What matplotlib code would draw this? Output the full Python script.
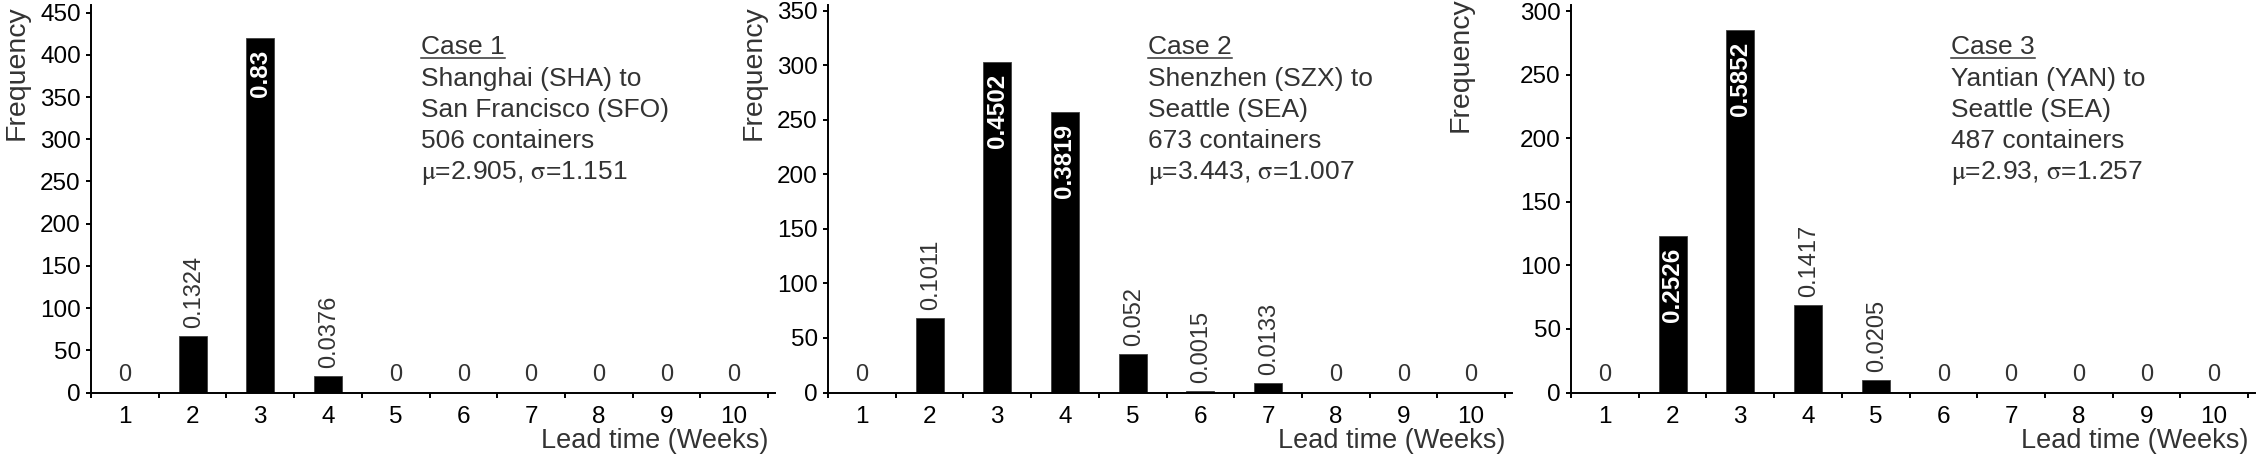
import matplotlib
matplotlib.use("Agg")
import matplotlib.pyplot as plt
from matplotlib.lines import Line2D

plt.rcParams['font.family'] = ['Liberation Sans', 'DejaVu Sans']
plt.rcParams['mathtext.fontset'] = 'stix'

# data
weeks = [1, 2, 3, 4, 5, 6, 7, 8, 9, 10]

counts_case1 = [0, 67, 420, 19, 0, 0, 0, 0, 0, 0]
labels_case1 = ["0", "0.1324", "0.83", "0.0376", "0", "0", "0", "0", "0", "0"]

counts_case2 = [0, 68, 303, 257, 35, 1, 9, 0, 0, 0]
labels_case2 = ["0", "0.1011", "0.4502", "0.3819", "0.052", "0.0015", "0.0133", "0", "0", "0"]

counts_case3 = [0, 123, 285, 69, 10, 0, 0, 0, 0, 0]
labels_case3 = ["0", "0.2526", "0.5852", "0.1417", "0.0205", "0", "0", "0", "0", "0"]

case_titles = ["Case 1", "Case 2", "Case 3"]
case_lines = [
    ["Shanghai (SHA) to", "San Francisco (SFO)", "506 containers",
     r"$\mathrm{\mu}$=2.905, $\mathrm{\sigma}$=1.151"],
    ["Shenzhen (SZX) to", "Seattle (SEA)", "673 containers",
     r"$\mathrm{\mu}$=3.443, $\mathrm{\sigma}$=1.007"],
    ["Yantian (YAN) to", "Seattle (SEA)", "487 containers",
     r"$\mathrm{\mu}$=2.93, $\mathrm{\sigma}$=1.257"],
]
y_tick_max = [450, 350, 300]

all_counts = [counts_case1, counts_case2, counts_case3]
all_labels = [labels_case1, labels_case2, labels_case3]

# layout in pixels
W, H = 2256, 463
def fx(px):
    return px / W
def fy(py):
    return 1 - py / H

axes_left = [91, 828, 1571]
axes_w = 684
axes_bottom = 392.5
axes_h = 387.5
ylim_top = [459, 355.5, 305]
text_left = [421, 1148, 1951]
ylabel_pos = [(-0.090, 1.0), (-0.090, 1.0), (-0.143, 1.02)]
gray = '#333333'

fig = plt.figure(figsize=(W / 100, H / 100), dpi=100)

title_texts = []
for i in range(3):
    ax = fig.add_axes([fx(axes_left[i]), fy(axes_bottom), axes_w / W, axes_h / H])
    counts = all_counts[i]
    labels = all_labels[i]
    ax.bar(weeks, counts, width=0.415, color='black', edgecolor='#404040', linewidth=0.6)

    ax.set_xlim(0.5, 0.5 + axes_w / 67.7)
    ax.set_ylim(0, ylim_top[i])
    ax.set_yticks(range(0, y_tick_max[i] + 1, 50))
    ax.set_xticks(weeks)
    ax.set_xticks([w - 0.5 for w in weeks] + [10.5], minor=True)
    ax.tick_params(axis='x', which='major', length=0, pad=10, labelsize=17.5)
    ax.tick_params(axis='x', which='minor', length=3.3, width=1.4, direction='out')
    ax.tick_params(axis='y', which='major', length=3.3, width=1.4, pad=4, labelsize=17.5)
    for s in ['top', 'right']:
        ax.spines[s].set_visible(False)
    for s in ['left', 'bottom']:
        ax.spines[s].set_linewidth(1.4)

    ax.set_ylabel('Frequency', fontsize=20.5, color=gray, ha='right')
    ax.yaxis.set_label_coords(*ylabel_pos[i])
    ax.set_xlabel('Lead time (Weeks)', fontsize=19.5, color=gray, ha='right', va='top')
    ax.xaxis.set_label_coords((768.3 - axes_left[0]) / axes_w, -0.092)

    for w, c, lab in zip(weeks, counts, labels):
        if c == 0:
            ax.annotate(lab, (w, c), xytext=(0, 5), textcoords='offset points',
                        ha='center', va='bottom', fontsize=17, color=gray)
        elif c > 100:
            ax.annotate(lab, (w, c), xytext=(0, -8.5), textcoords='offset points',
                        ha='center', va='top', rotation=90, fontsize=17.5,
                        fontweight='bold', color='white')
        else:
            ax.annotate(lab, (w, c), xytext=(0.8, 5.8), textcoords='offset points',
                        ha='center', va='bottom', rotation=90, fontsize=17, color=gray)

    # case description block
    t = fig.text(fx(text_left[i]), fy(54.5), case_titles[i], fontsize=19,
                 color=gray, va='baseline', ha='left')
    title_texts.append(t)
    for k, line in enumerate(case_lines[i]):
        fig.text(fx(text_left[i]), fy(54.5 + 31.2 * (k + 1)), line, fontsize=19,
                 color=gray, va='baseline', ha='left')

# underline the case titles
fig.canvas.draw()
renderer = fig.canvas.get_renderer()
for t in title_texts:
    bb = t.get_window_extent(renderer)
    fig.add_artist(Line2D([bb.x0 / W, bb.x1 / W], [fy(58.3), fy(58.3)],
                          transform=fig.transFigure, color=gray, linewidth=1.1))

fig.savefig('out.png', dpi=100)
